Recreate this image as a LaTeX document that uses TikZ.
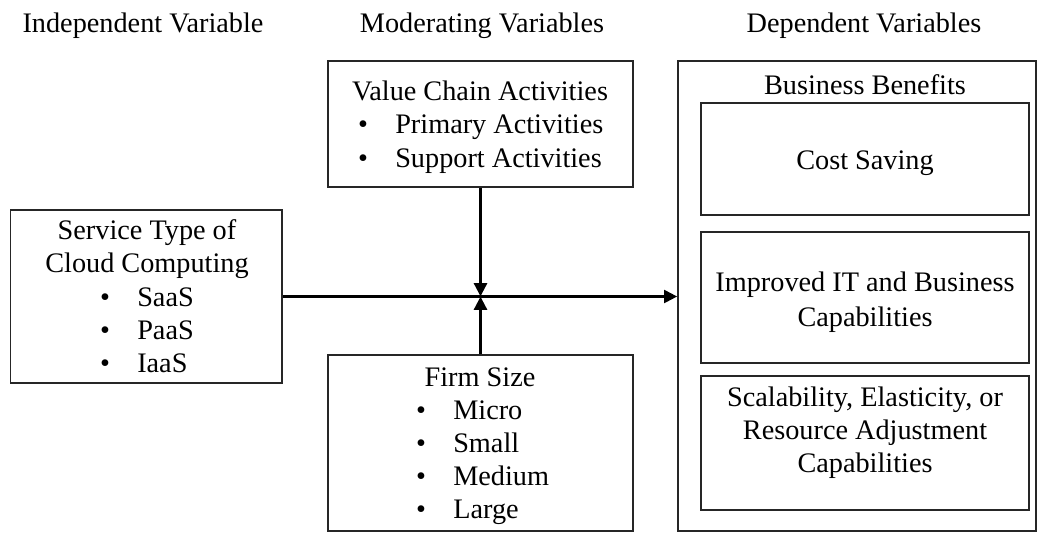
\documentclass[tikz,border=0pt]{standalone}
\usepackage{fontspec}
\setmainfont{Liberation Serif}
\usetikzlibrary{arrows.meta,fit}
\begin{document}
\begin{tikzpicture}[x=0.75pt,y=-0.75pt,
  box/.style={draw=black!85, line width=1pt, inner sep=0pt},
  txt/.style={inner sep=0pt, anchor=base, font=\fontsize{21.2}{25}\selectfont},
  btxt/.style={txt, anchor=base west},
  conn/.style={line width=2.5pt, -{Triangle[length=10pt,width=9.5pt]}}]
\useasboundingbox (0,0) rectangle (1037,532);

% headers
\node[txt] (h1) at (143,32) {Independent Variable};
\node[txt] (h2) at (482,32) {Moderating Variables};
\node[txt] (h3) at (864,32) {Dependent Variables};

% independent variable box
\node[box, fit={(10.7,210) (282,383)}] (iv) {};
\node[txt] (iv1) at (147,239.5) {Service Type of};
\node[txt] (iv2) at (147,272.5) {Cloud Computing};
\node[txt] (ivb1) at (105,306.5) {\textbullet};
\node[btxt] (ivt1) at (137,306.5) {SaaS};
\node[txt] (ivb2) at (105,339.5) {\textbullet};
\node[btxt] (ivt2) at (137,339.5) {PaaS};
\node[txt] (ivb3) at (105,372.5) {\textbullet};
\node[btxt] (ivt3) at (137,372.5) {IaaS};

% value chain box
\node[box, fit={(328,61) (633,187)}] (vc) {};
\node[txt] (vc1) at (480,100) {Value Chain Activities};
\node[txt] (vcb1) at (363,133.5) {\textbullet};
\node[btxt] (vct1) at (395,133.5) {Primary Activities};
\node[txt] (vcb2) at (363,167) {\textbullet};
\node[btxt] (vct2) at (395,167) {Support Activities};

% firm size box
\node[box, fit={(328,355) (633,531)}] (fs) {};
\node[txt] (fs1) at (480,386.5) {Firm Size};
\node[txt] (fsb1) at (421,419.5) {\textbullet};
\node[btxt] (fst1) at (453,419.5) {Micro};
\node[txt] (fsb2) at (421,452.5) {\textbullet};
\node[btxt] (fst2) at (453,452.5) {Small};
\node[txt] (fsb3) at (421,485.5) {\textbullet};
\node[btxt] (fst3) at (453,485.5) {Medium};
\node[txt] (fsb4) at (421,518.5) {\textbullet};
\node[btxt] (fst4) at (453,518.5) {Large};

% dependent variables
\node[box, fit={(678,61) (1036,531)}] (dv) {};
\node[txt] (bb) at (865,94.5) {Business Benefits};
\node[box, fit={(701,103) (1029,215)}] (cs) {};
\node[txt] (cst) at (865,169.5) {Cost Saving};
\node[box, fit={(701,232) (1029,363)}] (ic) {};
\node[txt] (ic1) at (865,291.5) {Improved IT and Business};
\node[txt] (ic2) at (865,326) {Capabilities};
\node[box, fit={(701,376) (1029,510)}] (sc) {};
\node[txt] (sc1) at (865,406.5) {Scalability, Elasticity, or};
\node[txt] (sc2) at (865,439.5) {Resource Adjustment};
\node[txt] (sc3) at (865,472.5) {Capabilities};

% connectors
\coordinate (mid) at (480.5,296.5);
\draw[conn] (iv.east) -- (iv.east -| dv.west);
\draw[conn] (vc.south) -- (mid);
\draw[conn] (fs.north) -- (mid);
\end{tikzpicture}
\end{document}
